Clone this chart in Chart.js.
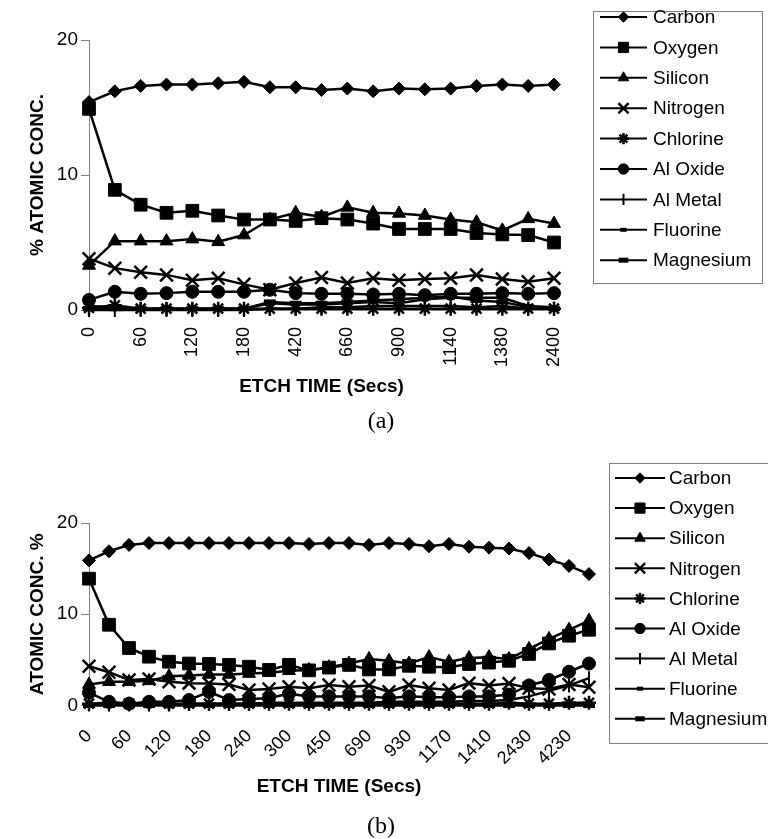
<!DOCTYPE html>
<html>
<head>
<meta charset="utf-8">
<script src="https://cdn.jsdelivr.net/npm/chart.js@4.4.1/dist/chart.umd.min.js"></script>
<style>
  html, body { margin: 0; padding: 0; background: #fff; }
  canvas { position: absolute; left: 0; }
  #chartA { top: 0; }
  #chartB { top: 440px; }
</style>
</head>
<body>
<canvas id="chartA" width="768" height="440"></canvas>
<canvas id="chartB" width="768" height="399"></canvas>
<script>
// ---- data, panel (a) ----
const timeA = ['0', '30', '60', '90', '120', '150', '180', '300', '420', '540', '660', '780', '900', '1020', '1140', '1260', '1380', '1800', '2400'];
const carbonA = [15.4, 16.2, 16.6, 16.7, 16.7, 16.8, 16.9, 16.5, 16.5, 16.3, 16.4, 16.2, 16.4, 16.35, 16.4, 16.6, 16.7, 16.6, 16.7];
const oxygenA = [14.9, 8.9, 7.8, 7.2, 7.35, 7.0, 6.7, 6.7, 6.6, 6.8, 6.7, 6.4, 6.0, 6.0, 6.0, 5.7, 5.6, 5.55, 5.0];
const siliconA = [3.3, 5.1, 5.1, 5.1, 5.25, 5.05, 5.55, 6.7, 7.2, 6.9, 7.6, 7.2, 7.15, 7.0, 6.7, 6.5, 5.9, 6.75, 6.4];
const nitrogenA = [3.8, 3.1, 2.8, 2.6, 2.2, 2.35, 1.9, 1.5, 2.0, 2.4, 2.0, 2.35, 2.2, 2.3, 2.35, 2.6, 2.3, 2.1, 2.35];
const chlorineA = [0.15, 0.35, 0.1, 0.1, 0.1, 0.1, 0.1, 0.1, 0.1, 0.1, 0.1, 0.1, 0.1, 0.1, 0.1, 0.1, 0.1, 0.1, 0.1];
const alOxideA = [0.75, 1.35, 1.2, 1.25, 1.35, 1.35, 1.35, 1.5, 1.25, 1.2, 1.2, 1.15, 1.2, 1.1, 1.2, 1.2, 1.25, 1.2, 1.25];
const alMetalA = [0, 0, 0, 0, 0, 0, 0, 0.1, 0.1, 0.2, 0.2, 0.3, 0.3, 0.3, 0.3, 0.2, 0.3, 0.1, 0.1];
const fluorineA = [0.3, 0.2, 0.1, 0.1, 0.1, 0.1, 0.1, 0.5, 0.4, 0.4, 0.5, 0.6, 0.5, 0.8, 0.9, 0.9, 0.9, 0.3, 0.2];
const magnesiumA = [0.1, 0.1, 0.1, 0.1, 0.1, 0.1, 0.1, 0.6, 0.5, 0.5, 0.6, 0.7, 0.8, 0.9, 1.0, 0.7, 0.6, 0.2, 0.1];

// ---- data, panel (b) ----
const timeB = ['0', '30', '60', '90', '120', '150', '180', '210', '240', '270', '300', '330', '450', '570', '690', '810', '930', '1050', '1170', '1290', '1410', '1890', '2430', '3330', '4230', '5130'];
const carbonB = [15.9, 16.9, 17.6, 17.8, 17.8, 17.8, 17.8, 17.8, 17.8, 17.8, 17.8, 17.7, 17.8, 17.8, 17.6, 17.8, 17.7, 17.45, 17.7, 17.4, 17.3, 17.2, 16.7, 16.0, 15.3, 14.4];
const oxygenB = [13.9, 8.85, 6.3, 5.35, 4.8, 4.6, 4.55, 4.45, 4.25, 3.9, 4.45, 3.85, 4.15, 4.45, 3.95, 3.95, 4.35, 4.25, 4.2, 4.55, 4.7, 4.9, 5.65, 6.8, 7.65, 8.3];
const siliconB = [2.3, 2.6, 2.6, 2.7, 3.2, 3.3, 3.4, 3.4, 3.5, 3.6, 3.8, 3.9, 4.2, 4.6, 5.1, 4.9, 4.6, 5.3, 4.8, 5.2, 5.3, 5.1, 6.2, 7.3, 8.3, 9.3];
const nitrogenB = [4.3, 3.65, 2.8, 2.9, 2.6, 2.45, 2.4, 2.3, 1.7, 1.8, 2.05, 1.9, 2.25, 2.05, 2.2, 1.5, 2.25, 1.9, 1.7, 2.45, 2.2, 2.4, 1.9, 1.8, 2.3, 2.0];
const chlorineB = [0.2, 0.3, 0.2, 0.3, 0.2, 0.2, 0.2, 0.2, 0.2, 0.2, 0.2, 0.2, 0.2, 0.2, 0.2, 0.2, 0.2, 0.2, 0.2, 0.2, 0.2, 0.3, 0.2, 0.2, 0.3, 0.3];
const alOxideB = [1.4, 0.4, 0.2, 0.4, 0.4, 0.6, 1.5, 0.6, 0.7, 0.8, 1.3, 1.0, 1.0, 1.0, 1.0, 0.8, 1.0, 0.9, 0.9, 1.0, 1.0, 1.2, 2.2, 2.8, 3.7, 4.6];
const alMetalB = [0.1, 0.1, 0.1, 0.1, 0.1, 0.2, 0.2, 0.2, 0.2, 0.3, 0.3, 0.3, 0.3, 0.3, 0.3, 0.4, 0.4, 0.4, 0.4, 0.5, 0.5, 0.6, 1.0, 1.6, 2.2, 3.0];
const fluorineB = [0.1, 0.1, 0.1, 0.1, 0.1, 0.1, 0.1, 0.1, 0.1, 0.1, 0.1, 0.1, 0.1, 0.1, 0.1, 0.1, 0.1, 0.1, 0.1, 0.1, 0.1, 0.1, 0.1, 0.1, 0.1, 0.1];
const magnesiumB = [0.0, 0.0, 0.0, 0.0, 0.0, 0.0, 0.0, 0.0, 0.0, 0.0, 0.0, 0.0, 0.0, 0.0, 0.0, 0.0, 0.0, 0.0, 0.0, 0.0, 0.0, 0.0, 0.0, 0.0, 0.0, 0.0];

const yTicks = [0, 10, 20];

// marker look for each element (same in both panels)
const markers = [
  { label: 'Carbon',    pointStyle: 'rectRot',  radius: 6.5, width: 1 },
  { label: 'Oxygen',    pointStyle: 'rect',     radius: 9,   width: 1 },
  { label: 'Silicon',   pointStyle: 'triangle', radius: 7.5, width: 1 },
  { label: 'Nitrogen',  pointStyle: 'crossRot', radius: 9,   width: 2.5 },
  { label: 'Chlorine',  pointStyle: 'star',     radius: 7,   width: 2.5 },
  { label: 'Al Oxide',  pointStyle: 'circle',   radius: 6.5, width: 1 },
  { label: 'Al Metal',  pointStyle: 'line',     radius: 7,   width: 2, rotation: 90 },
  { label: 'Fluorine',  pointStyle: 'line',     radius: 4,   width: 4 },
  { label: 'Magnesium', pointStyle: 'line',     radius: 6,   width: 5 }
];

const FONT = "'Liberation Sans', Arial, sans-serif";

// framed legend with line + marker samples, plus the (a)/(b) caption
const boxLegend = {
  id: 'boxLegend',
  afterDraw(chart, args, opts) {
    const ctx = chart.ctx;
    ctx.save();
    ctx.strokeStyle = '#808080';
    ctx.lineWidth = 1;
    ctx.strokeRect(opts.x + 0.5, opts.y + 0.5, opts.w, opts.h);
    ctx.font = '19px ' + FONT;
    ctx.textBaseline = 'middle';
    chart.data.datasets.forEach((ds, i) => {
      const y = opts.rowY + i * opts.rowH;
      ctx.strokeStyle = '#000';
      ctx.lineWidth = 2;
      ctx.beginPath();
      ctx.moveTo(opts.lineX0, y);
      ctx.lineTo(opts.lineX1, y);
      ctx.stroke();
      const m = markers[i];
      ctx.fillStyle = '#000';
      ctx.lineWidth = m.width;
      Chart.helpers.drawPoint(ctx, {
        pointStyle: m.pointStyle,
        rotation: m.rotation || 0,
        radius: m.radius * 0.8,
        borderWidth: m.width
      }, (opts.lineX0 + opts.lineX1) / 2, y);
      ctx.fillStyle = '#000';
      ctx.fillText(ds.label, opts.textX, y + 1);
    });
    // caption under the axis title
    ctx.font = "24px 'Liberation Serif', 'Times New Roman', serif";
    ctx.textAlign = 'center';
    ctx.fillText(opts.caption, opts.captionX, opts.captionY);
    ctx.restore();
  }
};

function makePanel(canvasId, labels, series, cfg) {
  const datasets = series.map((values, i) => ({
    label: markers[i].label,
    data: values,
    borderColor: '#000',
    backgroundColor: '#000',
    borderWidth: 2.5,
    pointStyle: markers[i].pointStyle,
    pointRotation: markers[i].rotation || 0,
    pointRadius: markers[i].radius,
    pointBorderWidth: markers[i].width,
    pointBackgroundColor: '#000',
    pointBorderColor: '#000',
    tension: 0,
    clip: false
  }));

  return new Chart(document.getElementById(canvasId), {
    type: 'line',
    data: { labels: labels, datasets: datasets },
    options: {
      responsive: false,
      animation: false,
      events: [],
      layout: { padding: { top: cfg.top, right: cfg.right, left: 0, bottom: cfg.bottom } },
      plugins: {
        legend: { display: false },
        tooltip: { enabled: false },
        title: { display: false },
        boxLegend: cfg.legend
      },
      scales: {
        x: {
          type: 'category',
          offset: false,
          grid: { display: false, drawTicks: false },
          border: { display: true, color: '#808080', width: 1 },
          ticks: {
            autoSkip: false,
            maxRotation: cfg.rotation,
            minRotation: cfg.rotation,
            padding: cfg.tickPad,
            color: '#000',
            font: { family: FONT, size: 18 },
            callback: function (value, index) {
              return index % 2 ? '' : this.getLabelForValue(value);
            }
          },
          title: {
            display: true,
            text: 'ETCH TIME (Secs)',
            color: '#000',
            font: { family: FONT, size: 19, weight: 'bold' },
            padding: { top: 0, bottom: cfg.xTitlePad }
          },
          afterFit: (scale) => { scale.height = cfg.xHeight; }
        },
        y: {
          min: 0,
          max: 20,
          grid: { drawOnChartArea: false, drawTicks: true, tickLength: 8, color: '#808080' },
          border: { display: true, color: '#808080', width: 1 },
          afterBuildTicks: (scale) => { scale.ticks = yTicks.map(v => ({ value: v })); },
          ticks: {
            padding: 3,
            color: '#000',
            font: { family: FONT, size: 19 }
          },
          title: {
            display: true,
            text: cfg.yTitle,
            color: '#000',
            font: { family: FONT, size: 19, weight: 'bold' },
            padding: { top: 26.6, bottom: 0 }
          },
          afterFit: (scale) => { scale.width = 89; }
        }
      }
    },
    plugins: [boxLegend]
  });
}

makePanel('chartA', timeA,
  [carbonA, oxygenA, siliconA, nitrogenA, chlorineA, alOxideA, alMetalA, fluorineA, magnesiumA], {
    top: 40, right: 214, bottom: 30,
    rotation: 90, tickPad: 17, xHeight: 100, xTitlePad: 11.6,
    yTitle: '% ATOMIC CONC.',
    legend: {
      x: 593, y: 11, w: 169, h: 272, rowY: 17, rowH: 30.4, lineX0: 600, lineX1: 647, textX: 653,
      caption: '(a)', captionX: 381, captionY: 422
    }
  });

makePanel('chartB', timeB,
  [carbonB, oxygenB, siliconB, nitrogenB, chlorineB, alOxideB, alMetalB, fluorineB, magnesiumB], {
    top: 83, right: 179, bottom: 24,
    rotation: 45, tickPad: 20, xHeight: 109.5, xTitlePad: 16.6,
    yTitle: 'ATOMIC CONC. %',
    legend: {
      x: 609, y: 23, w: 160, h: 280, rowY: 38, rowH: 30.1, lineX0: 615, lineX1: 665, textX: 669,
      caption: '(b)', captionX: 381, captionY: 387
    }
  });
</script>
</body>
</html>
